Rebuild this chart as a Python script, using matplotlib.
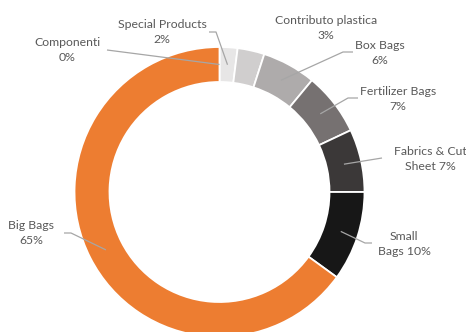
import numpy as np
import matplotlib
matplotlib.use("Agg")
from matplotlib import pyplot as plt

# Data (clockwise from 12 o'clock)
labels = ["Componenti", "Special Products", "Contributo plastica", "Box Bags",
          "Fertilizer Bags", "Fabrics & Cut\nSheet", "Small\nBags", "Big Bags"]
shares = [0, 2, 3, 6, 7, 7, 10, 65]
colors = ["#FFFFFF", "#E7E6E6", "#D0CECE", "#AEABAB", "#767171",
          "#3B3838", "#171717", "#ED7D31"]

W, H = 466, 332
fig = plt.figure(figsize=(W / 100, H / 100), dpi=100)
ax = fig.add_axes([0, 0, 1, 1])

cx, cy = 219.5, H - 192
r_out, ring = 145, 35

ax.pie(shares, colors=colors, startangle=90, counterclock=False,
       center=(cx, cy), radius=r_out, normalize=True,
       wedgeprops=dict(width=ring, edgecolor='white', linewidth=1.3))
ax.set_xlim(0, W)
ax.set_ylim(0, H)
ax.set_aspect('equal')
ax.axis('off')

# label text centre and leader elbow (pixel coords, y from top)
text_pos = [(67, 50), (162, 32), (326, 28), (380, 53), (398, 99),
            (430, 159), (404, 244), (31, 233)]
elbows = [[(107, 50)], [(209, 32), (216, 32)], None, [(353, 52), (343, 52)],
          [(358, 98), (348, 98)], [(382, 158)], [(372, 243), (365, 243)],
          [(64, 233), (71, 233)]]

total = sum(shares)
cum = np.cumsum([0] + shares)
r_mid = r_out - ring / 2
for i, lab in enumerate(labels):
    pct = f"{shares[i] / total * 100:.0f}%"
    if "\n" in lab:
        txt = lab + " " + pct
    else:
        txt = lab + "\n" + pct
    tx, ty = text_pos[i]
    ax.text(tx, H - ty, txt, ha='center', va='center', fontsize=8.8,
            color='#595959', family='Lato', linespacing=1.45)
    if elbows[i] is not None:
        theta = np.deg2rad((cum[i] + shares[i] / 2) / total * 360)
        ax_ = cx + r_mid * np.sin(theta)
        ay_ = cy + r_mid * np.cos(theta)
        xs = [p[0] for p in elbows[i]] + [ax_]
        ys = [H - p[1] for p in elbows[i]] + [ay_]
        ax.plot(xs, ys, color='#A6A6A6', lw=0.9, solid_capstyle='butt')

fig.savefig("out.png", dpi=100)
